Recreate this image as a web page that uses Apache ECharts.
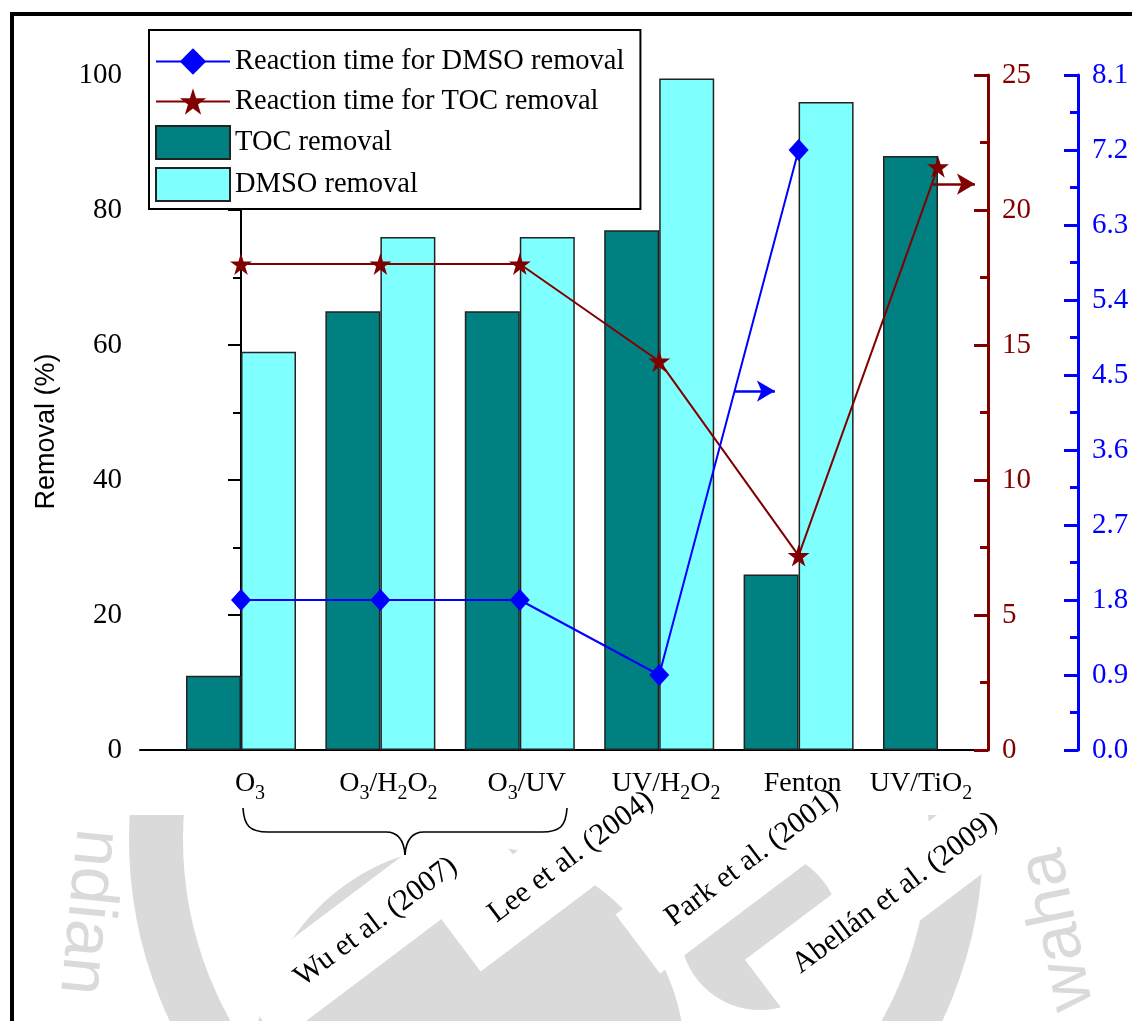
<!DOCTYPE html>
<html>
<head>
<meta charset="utf-8">
<title>DMSO and TOC removal by AOPs</title>
<script src="https://cdn.jsdelivr.net/npm/echarts@6/dist/echarts.min.js"></script>
<style>
  html, body { margin: 0; padding: 0; background: #ffffff; }
  #chart { width: 1132px; height: 1021px; }
</style>
</head>
<body>
<div id="chart"></div>
<script>
// Treatment processes (x categories)
var processes = ['O3', 'O3/H2O2', 'O3/UV', 'UV/H2O2', 'Fenton', 'UV/TiO2'];

// Removal efficiencies (%)
var tocRemoval = [11, 65, 65, 77, 26, 88];
var dmsoRemoval = [59, 76, 76, 99.5, 96, null];

// Reaction times (h)
var timeDmso = [1.8, 1.8, 1.8, 0.9, 7.2, null];
var timeToc = [18, 18, 18, 14.4, 7.2, 21.6];

// Axis tick settings
var leftTicks = { min: 0, max: 100, interval: 20 };
var tocTimeTicks = { min: 0, max: 25, interval: 5 };
var dmsoTimeTicks = { min: 0, max: 8.1, interval: 0.9 };

// Literature sources shown under the process names
var sources = ['Wu et al. (2007)', 'Lee et al. (2004)', 'Park et al. (2001)', 'Abellán et al. (2009)'];

var SERIF = '"Liberation Serif", "Times New Roman", serif';
var SANS = '"Liberation Sans", Arial, sans-serif';

function pairs(values) {
  var out = [];
  values.forEach(function (v, i) { if (v !== null) out.push([i, v]); });
  return out;
}

// Horizontal nudge (px) of each process label relative to its bar pair
var labelNudge = [9, 8, 7, 7, 4, -17];

// Chemical formula -> rich text with subscript digits
function formula(name, nudge) {
  var body = name.replace(/[^0-9]+|[0-9]+/g, function (part) {
    return /[0-9]/.test(part) ? '{s|' + part + '}' : '{n|' + part + '}';
  });
  if (nudge > 0) return '{g' + nudge + '|}' + body;
  if (nudge < 0) return body + '{g' + (-nudge) + '|}';
  return body;
}

var richLabel = {
  n: { fontFamily: SERIF, fontSize: 28, color: '#000000', lineHeight: 30 },
  s: { fontFamily: SERIF, fontSize: 20, color: '#000000', lineHeight: 20, padding: [19, 0, 0, 0] }
};
labelNudge.forEach(function (d) {
  richLabel['g' + Math.abs(d)] = { width: Math.abs(d) * 2, lineHeight: 1 };
});

var starPath = 'path://M50,0 L61.2,34.5 L97.6,34.5 L68.2,55.9 L79.4,90.5 L50,69.1 L20.6,90.5 L31.8,55.9 L2.4,34.5 L38.8,34.5 Z';

var chart = echarts.init(document.getElementById('chart'), null, { renderer: 'canvas' });

// Citation labels (rotated, on white plates)
var citeAngle = 37 * Math.PI / 180;
var citationPlacement = [
  { x: 376, y: 922, w: 300, h: 74 },
  { x: 571, y: 857, w: 282, h: 74 },
  { x: 752, y: 858, w: 286, h: 74 },
  { x: 895, y: 893, w: 320, h: 74 }
];
var citationGraphics = [];
sources.forEach(function (txt, i) {
  var p = citationPlacement[i];
  citationGraphics.push({
    type: 'rect', x: p.x, y: p.y, rotation: citeAngle, z: -1,
    shape: { x: -p.w / 2, y: -p.h / 2, width: p.w, height: p.h }, style: { fill: '#ffffff' }
  });
  citationGraphics.push({
    type: 'text', x: p.x, y: p.y, rotation: citeAngle, z: 5,
    style: { text: txt, x: 0, y: 0, font: '30px ' + SERIF, fill: '#000000',
      textAlign: 'center', textVerticalAlign: 'middle', align: 'center', verticalAlign: 'middle' }
  });
});

// Faint background emblem in the lower band
var WM = '#dadada';
var wmText = { font: '68px ' + SANS, fill: WM, textAlign: 'center', textVerticalAlign: 'middle', align: 'center', verticalAlign: 'middle' };
var watermark = [
  { type: 'circle', shape: { cx: 556, cy: 839, r: 400 }, style: { fill: 'none', stroke: WM, lineWidth: 54 }, z: -10 },
  { type: 'circle', shape: { cx: 470, cy: 1060, r: 215 }, style: { fill: WM }, z: -10 },
  { type: 'circle', shape: { cx: 760, cy: 930, r: 80 }, style: { fill: WM }, z: -10 },
  { type: 'text', x: 88, y: 912, rotation: -Math.PI / 2 - 0.1, z: -10,
    style: Object.assign({ text: 'ndian' }, wmText) },
  { type: 'text', x: 1058, y: 930, rotation: Math.PI / 2 + 0.2, z: -10,
    style: Object.assign({ text: 'waha' }, wmText) },
  // plain band above the emblem
  { type: 'rect', shape: { x: 0, y: 0, width: 1132, height: 815 }, style: { fill: '#ffffff' }, z: -5 }
];

// Brace grouping the three ozone processes
var braceStyle = { stroke: '#000000', lineWidth: 1.6, fill: 'none' };
var braceParts = [
  { type: 'bezierCurve', shape: { x1: 243, y1: 808, cpx1: 244, cpy1: 826, cpx2: 250, cpy2: 832, x2: 268, y2: 832 } },
  { type: 'line', shape: { x1: 268, y1: 832, x2: 386, y2: 832 } },
  { type: 'bezierCurve', shape: { x1: 386, y1: 832, cpx1: 398, cpy1: 832, cpx2: 404, cpy2: 840, x2: 405, y2: 855 } },
  { type: 'bezierCurve', shape: { x1: 405, y1: 855, cpx1: 406, cpy1: 840, cpx2: 412, cpy2: 832, x2: 424, y2: 832 } },
  { type: 'line', shape: { x1: 424, y1: 832, x2: 542, y2: 832 } },
  { type: 'bezierCurve', shape: { x1: 542, y1: 832, cpx1: 560, cpy1: 832, cpx2: 566, cpy2: 826, x2: 567, y2: 808 } }
].map(function (el) { el.style = braceStyle; el.z = 7; return el; });

var graphics = watermark.concat(citationGraphics).concat(braceParts).concat([
  // frame
  { type: 'polyline', shape: { points: [[12, 1030], [12, 14], [1140, 14]] }, style: { stroke: '#000000', lineWidth: 4, fill: 'none' }, z: 10 }
]);

var barBorder = '#222222';

var option = {
  animation: false,
  backgroundColor: '#ffffff',
  textStyle: { fontFamily: SERIF },
  grid: { left: 140, right: 144, top: 75, bottom: 271, containLabel: false },
  legend: {
    orient: 'vertical', left: 149, top: 30,
    padding: [15, 16, 7, 6], itemGap: 7, itemWidth: 74, itemHeight: 33,
    backgroundColor: '#ffffff', borderColor: '#000000', borderWidth: 2,
    textStyle: { fontFamily: SERIF, fontSize: 28.5, color: '#000000', lineHeight: 33 },
    data: [
      { name: 'Reaction time for DMSO removal' },
      { name: 'Reaction time for TOC removal' },
      { name: 'TOC removal', icon: 'rect' },
      { name: 'DMSO removal', icon: 'rect' }
    ],
    selectedMode: false, z: 8
  },
  xAxis: {
    type: 'value', min: -0.7245, max: 5.3587,
    axisLine: { show: true, onZero: false, lineStyle: { color: '#000000', width: 2 } },
    axisTick: { show: false },
    splitLine: { show: false },
    axisLabel: {
      customValues: [0, 1, 2, 3, 4, 5], margin: 19,
      formatter: function (v) { var i = Math.round(v); return formula(processes[i], labelNudge[i]); },
      rich: richLabel
    }
  },
  yAxis: [
    {
      type: 'value', position: 'left', min: leftTicks.min, max: leftTicks.max, interval: leftTicks.interval,
      name: 'Removal (%)', nameLocation: 'middle', nameGap: 80, nameRotate: 90,
      nameTextStyle: { fontFamily: SANS, fontSize: 27, color: '#000000', padding: [0, 38, 0, 0] },
      axisLine: { show: true, lineStyle: { color: '#000000', width: 2 } },
      axisTick: { show: true, length: 13, lineStyle: { color: '#000000', width: 2 } },
      minorTick: { show: true, splitNumber: 2, length: 8, lineStyle: { color: '#000000', width: 2 } },
      axisLabel: { margin: 18, fontFamily: SERIF, fontSize: 29, color: '#000000' },
      splitLine: { show: false }
    },
    {
      type: 'value', position: 'right', min: tocTimeTicks.min, max: tocTimeTicks.max, interval: tocTimeTicks.interval,
      axisLine: { show: true, lineStyle: { color: '#800000', width: 3 } },
      axisTick: { show: true, inside: true, length: 14, lineStyle: { color: '#800000', width: 3 } },
      minorTick: { show: true, splitNumber: 2, length: 8, lineStyle: { color: '#800000', width: 3 } },
      axisLabel: { margin: 14, fontFamily: SERIF, fontSize: 29, color: '#800000' },
      splitLine: { show: false }
    },
    {
      type: 'value', position: 'right', offset: 90, min: dmsoTimeTicks.min, max: dmsoTimeTicks.max, interval: dmsoTimeTicks.interval,
      axisLine: { show: true, lineStyle: { color: '#0000ff', width: 3 } },
      axisTick: { show: true, inside: true, length: 14, lineStyle: { color: '#0000ff', width: 3 } },
      minorTick: { show: true, splitNumber: 2, length: 8, lineStyle: { color: '#0000ff', width: 3 } },
      axisLabel: { margin: 14, fontFamily: SERIF, fontSize: 29, color: '#0000ff',
        formatter: function (v) { return v.toFixed(1); } },
      splitLine: { show: false }
    }
  ],
  series: [
    {
      name: 'TOC removal', type: 'bar', yAxisIndex: 0, data: pairs(tocRemoval),
      barWidth: 55, barGap: '0%',
      itemStyle: { color: '#008080', borderColor: barBorder, borderWidth: 1.5 },
      emphasis: { disabled: true }
    },
    {
      name: 'DMSO removal', type: 'bar', yAxisIndex: 0, data: pairs(dmsoRemoval),
      barWidth: 55, barGap: '0%',
      itemStyle: { color: '#80ffff', borderColor: barBorder, borderWidth: 1.5 },
      emphasis: { disabled: true }
    },
    {
      name: 'Reaction time for TOC removal', type: 'line', yAxisIndex: 1, data: pairs(timeToc),
      symbol: starPath, symbolSize: 22, z: 4,
      itemStyle: { color: '#800000' }, lineStyle: { color: '#800000', width: 2 },
      emphasis: { disabled: true },
      markLine: {
        silent: true, symbol: ['none', 'arrow'], symbolSize: [16, 18],
        lineStyle: { color: '#800000', width: 2.5, type: 'solid' }, label: { show: false },
        data: [[{ coord: [4.964, 20.96] }, { coord: [5.265, 20.96] }]]
      }
    },
    {
      name: 'Reaction time for DMSO removal', type: 'line', yAxisIndex: 2, data: pairs(timeDmso),
      symbol: 'diamond', symbolSize: [20, 22], z: 4,
      itemStyle: { color: '#0000ff' }, lineStyle: { color: '#0000ff', width: 2 },
      emphasis: { disabled: true },
      markLine: {
        silent: true, symbol: ['none', 'arrow'], symbolSize: [16, 18],
        lineStyle: { color: '#0000ff', width: 2.5, type: 'solid' }, label: { show: false },
        data: [[{ coord: [3.54, 4.307] }, { coord: [3.83, 4.307] }]]
      }
    }
  ],
  graphic: graphics
};

chart.setOption(option);
</script>
</body>
</html>
